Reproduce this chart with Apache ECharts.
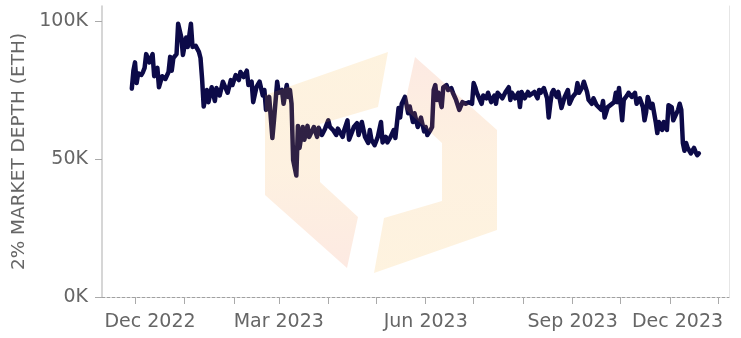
<!DOCTYPE html>
<html>
<head>
<meta charset="utf-8">
<script src="https://cdn.jsdelivr.net/npm/echarts@6/dist/echarts.min.js"></script>
<style>
  html, body { margin: 0; padding: 0; background: #fff; }
  #chart { width: 741px; height: 338px; }
</style>
</head>
<body>
<div id="chart"></div>
<script>
// Daily 2% market depth (ETH)
const dates = [
  '2022-11-29','2022-11-30','2022-12-01','2022-12-02','2022-12-03','2022-12-05','2022-12-06','2022-12-07','2022-12-08','2022-12-10',
  '2022-12-12','2022-12-13','2022-12-15','2022-12-16','2022-12-18','2022-12-20','2022-12-22','2022-12-23','2022-12-24','2022-12-25',
  '2022-12-27','2022-12-28','2022-12-30','2022-12-31','2023-01-02','2023-01-03','2023-01-05','2023-01-06','2023-01-08','2023-01-10',
  '2023-01-11','2023-01-12','2023-01-13','2023-01-15','2023-01-16','2023-01-18','2023-01-20','2023-01-21','2023-01-23','2023-01-25',
  '2023-01-28','2023-01-30','2023-01-31','2023-02-02','2023-02-04','2023-02-05','2023-02-07','2023-02-09','2023-02-10','2023-02-12',
  '2023-02-13','2023-02-15','2023-02-17','2023-02-19','2023-02-20','2023-02-21','2023-02-23','2023-02-25','2023-02-26','2023-02-28',
  '2023-03-01','2023-03-03','2023-03-04','2023-03-06','2023-03-07','2023-03-08','2023-03-09','2023-03-10','2023-03-12','2023-03-13',
  '2023-03-14','2023-03-16','2023-03-17','2023-03-19','2023-03-20','2023-03-23','2023-03-25','2023-03-26','2023-03-28','2023-03-30',
  '2023-04-01','2023-04-02','2023-04-04','2023-04-06','2023-04-07','2023-04-10','2023-04-11','2023-04-13','2023-04-14','2023-04-16',
  '2023-04-17','2023-04-19','2023-04-20','2023-04-22','2023-04-24','2023-04-26','2023-04-27','2023-04-28','2023-04-30','2023-05-02',
  '2023-05-04','2023-05-05','2023-05-07','2023-05-08','2023-05-10','2023-05-12','2023-05-13','2023-05-15','2023-05-16','2023-05-17',
  '2023-05-19','2023-05-21','2023-05-22','2023-05-24','2023-05-25','2023-05-27','2023-05-29','2023-05-31','2023-06-01','2023-06-02',
  '2023-06-04','2023-06-05','2023-06-06','2023-06-07','2023-06-08','2023-06-09','2023-06-11','2023-06-12','2023-06-14','2023-06-15',
  '2023-06-17','2023-06-18','2023-06-20','2023-06-21','2023-06-22','2023-06-24','2023-06-26','2023-06-28','2023-06-30','2023-07-01',
  '2023-07-02','2023-07-03','2023-07-04','2023-07-06','2023-07-07','2023-07-09','2023-07-10','2023-07-12','2023-07-14','2023-07-15',
  '2023-07-16','2023-07-19','2023-07-21','2023-07-23','2023-07-24','2023-07-25','2023-07-27','2023-07-29','2023-07-30','2023-07-31',
  '2023-08-02','2023-08-04','2023-08-05','2023-08-06','2023-08-08','2023-08-10','2023-08-11','2023-08-12','2023-08-14','2023-08-16',
  '2023-08-17','2023-08-18','2023-08-19','2023-08-20','2023-08-22','2023-08-23','2023-08-24','2023-08-25','2023-08-27','2023-08-29',
  '2023-08-30','2023-09-01','2023-09-03','2023-09-04','2023-09-05','2023-09-07','2023-09-08','2023-09-10','2023-09-11','2023-09-13',
  '2023-09-14','2023-09-16','2023-09-17','2023-09-19','2023-09-20','2023-09-21','2023-09-23','2023-09-24','2023-09-27','2023-09-28',
  '2023-09-29','2023-09-30','2023-10-02','2023-10-03','2023-10-05','2023-10-06','2023-10-08','2023-10-10','2023-10-11','2023-10-13',
  '2023-10-15','2023-10-16','2023-10-17','2023-10-18','2023-10-20','2023-10-21','2023-10-23','2023-10-24','2023-10-25','2023-10-27',
  '2023-10-28','2023-10-30','2023-10-31','2023-11-02','2023-11-03','2023-11-04','2023-11-06','2023-11-07','2023-11-08','2023-11-09',
  '2023-11-10','2023-11-11','2023-11-12','2023-11-14','2023-11-16','2023-11-17','2023-11-18','2023-11-19'
];

const depthEth = [
  75500, 82000, 85000, 77500, 81000, 80500, 81500, 83000, 88000, 85000,
  88000, 80000, 83000, 76000, 80000, 79000, 81500, 87000, 82000, 86600,
  88000, 99000, 94000, 87700, 94000, 90600, 99000, 90600, 91000, 88800,
  86600, 79000, 69000, 75000, 70600, 76000, 71000, 75700, 73000, 78000,
  74000, 78600, 76800, 80400, 78600, 81500, 79700, 82000, 76800, 78000,
  70600, 76000, 78000, 73000, 75000, 67800, 72500, 57600, 64000, 78000,
  74000, 75000, 70000, 76800, 72500, 75000, 70000, 49600, 44000, 62000,
  54000, 61600, 57000, 62000, 58000, 61600, 58000, 61300, 58700, 61000,
  64000, 61600, 60500, 58700, 61000, 58000, 60500, 64000, 57000, 60000,
  61600, 63000, 58700, 63400, 58000, 55800, 60500, 57000, 55000, 58000,
  63400, 56000, 58000, 56000, 58000, 60500, 57600, 68500, 65000, 70000,
  72500, 66600, 69000, 63400, 66600, 61600, 65000, 60000, 61600, 58700,
  60500, 61600, 75000, 76800, 71400, 74000, 68800, 76000, 76800, 75000,
  75700, 74000, 71400, 72000, 67800, 70600, 70000, 70600, 70000, 77500,
  76000, 74000, 74300, 70000, 73000, 72000, 74000, 70600, 73000, 70000,
  74000, 72000, 74300, 76000, 71400, 74000, 72000, 74000, 68800, 74300,
  72000, 74300, 73000, 72500, 74300, 72000, 75000, 74000, 75700, 72000,
  65000, 70000, 74000, 75000, 72500, 74300, 74000, 68500, 72500, 75000,
  70000, 72500, 74000, 77500, 74000, 76000, 78000, 74300, 71400, 70000,
  72000, 69500, 70000, 67800, 71000, 65000, 68800, 68800, 70600, 74000,
  70600, 75700, 64000, 71400, 73000, 74000, 72500, 74000, 70000, 72000,
  68800, 64000, 67000, 72500, 68500, 70000, 63400, 59400, 63400, 60500,
  63400, 60500, 69500, 68800, 64000, 63400, 67800, 70000, 67800, 55800,
  53000, 55800, 54000, 52000, 54000, 52500, 51400, 52000
];

// Monthly tick marks and quarterly labels on the date axis
const tickMonths = [
  '2022-12-01','2023-01-01','2023-02-01','2023-03-01','2023-04-01','2023-05-01','2023-06-01',
  '2023-07-01','2023-08-01','2023-09-01','2023-10-01','2023-11-01','2023-12-01'
];
const labelMonths = ['2022-12-01','2023-03-01','2023-06-01','2023-09-01','2023-12-01'];
const labelTexts = ['Dec 2022','Mar 2023','Jun 2023','Sep 2023','Dec 2023'];

const yTicks = [0, 50000, 100000];
const yTickLabels = ['0K', '50K', '100K'];

const toTime = s => { const p = s.split('-').map(Number); return new Date(p[0], p[1] - 1, p[2]).getTime(); };

const seriesData = dates.map((d, i) => [toTime(d), depthEth[i]]);
const tickValues = tickMonths.map(toTime);
const labelValues = labelMonths.map(toTime);

const FONT = 'DejaVu Sans';
const GREY = '#666666';

// Logo watermark: two interlocking half-hexagon shapes
const leftShape = [[388, 52], [265, 95], [265, 195], [347, 268], [358, 217], [320, 182], [320, 124], [378, 107]];
const rightShape = leftShape.map(p => [762 - p[0], 325 - p[1]]);

const chart = echarts.init(document.getElementById('chart'), null, { renderer: 'canvas' });

chart.setOption({
  animation: false,
  backgroundColor: '#ffffff',
  grid: { left: 102, right: 12, top: 6, bottom: 41, containLabel: false, outerBoundsMode: 'none' },
  xAxis: {
    type: 'value',
    min: new Date(2022, 10, 10, 8).getTime(),
    max: new Date(2023, 11, 7, 21).getTime(),
    splitLine: { show: false },
    axisLine: { show: true, onZero: false, lineStyle: { color: '#a0a0a0', type: [3, 2], width: 1 } },
    axisTick: { show: true, customValues: tickValues, length: 7, lineStyle: { color: '#aaaaaa' } },
    axisLabel: {
      customValues: labelValues,
      margin: 16,
      color: GREY,
      fontFamily: FONT,
      fontSize: 19,
      // first and last labels are nudged to stay inside the plot width
      rich: {
        first: { color: GREY, fontFamily: FONT, fontSize: 19, padding: [0, 0, 0, 30] },
        last: { color: GREY, fontFamily: FONT, fontSize: 19, padding: [0, 81, 0, 0] }
      },
      formatter: function (val) {
        const i = labelValues.indexOf(val);
        if (i < 0) return '';
        if (i === 0) return '{first|' + labelTexts[i] + '}';
        if (i === labelTexts.length - 1) return '{last|' + labelTexts[i] + '}';
        return labelTexts[i];
      }
    }
  },
  yAxis: [{
    type: 'value',
    min: 0,
    max: 105435,
    name: '2% MARKET DEPTH (ETH)',
    nameLocation: 'middle',
    nameGap: 63,
    nameTextStyle: { color: GREY, fontFamily: FONT, fontSize: 18.5 },
    splitLine: { show: false },
    axisLine: { show: true, lineStyle: { color: '#c8c8c8', width: 1.5 } },
    axisTick: { show: true, customValues: yTicks, length: 7, lineStyle: { color: '#aaaaaa' } },
    axisLabel: {
      customValues: yTicks,
      margin: 14,
      color: GREY,
      fontFamily: FONT,
      fontSize: 19,
      formatter: function (val) {
        const i = yTicks.indexOf(val);
        return i >= 0 ? yTickLabels[i] : '';
      }
    }
  }, {
    type: 'value',
    min: 0,
    max: 105435,
    position: 'right',
    splitLine: { show: false },
    axisLine: { show: true, lineStyle: { color: '#e6e6e6', width: 1 } },
    axisTick: { show: false },
    axisLabel: { show: false }
  }],
  series: [{
    type: 'line',
    yAxisIndex: 0,
    data: seriesData,
    showSymbol: false,
    symbol: 'none',
    lineStyle: { color: '#0c0a48', width: 4.5, cap: 'round', join: 'round' },
    z: 2
  }],
  graphic: [
    {
      type: 'polygon',
      z: 100,
      silent: true,
      shape: { points: leftShape },
      style: {
        fill: { type: 'linear', x: 0, y: 0, x2: 0, y2: 1, colorStops: [
          { offset: 0, color: '#f7ae2a' }, { offset: 0.55, color: '#f5a032' }, { offset: 1, color: '#f07040' }
        ] },
        opacity: 0.15
      }
    },
    {
      type: 'polygon',
      z: 100,
      silent: true,
      shape: { points: rightShape },
      style: {
        fill: { type: 'linear', x: 0, y: 0, x2: 0, y2: 1, colorStops: [
          { offset: 0, color: '#f07040' }, { offset: 0.45, color: '#f5a032' }, { offset: 1, color: '#f7ae2a' }
        ] },
        opacity: 0.15
      }
    }
  ]
});
</script>
</body>
</html>
